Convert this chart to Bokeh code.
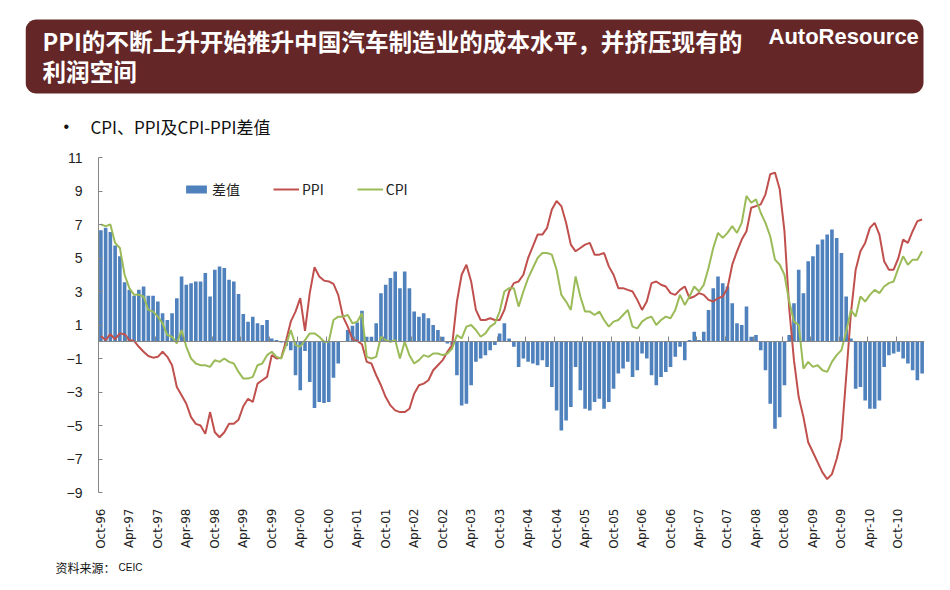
import math
from bokeh.plotting import figure
from bokeh.layouts import column
from bokeh.models import (Range1d, FixedTicker, LinearAxis, Legend, LegendItem,
                          ColumnDataSource)
from bokeh.core.properties import value
from bokeh.embed import file_html
from bokeh.resources import INLINE

# ---------------- data (monthly, Oct-1996 .. Mar-2011) ----------------
cpi = [
    7.0, 6.9, 7.0,
    5.9, 5.6, 4.0, 3.2, 2.8, 2.8, 2.7, 1.9, 1.8, 1.5, 1.1, 0.4,
    0.3, -0.1, 0.7, -0.3, -1.0, -1.3, -1.4, -1.4, -1.5, -1.1, -1.2, -1.0,
    -1.2, -1.3, -1.8, -2.2, -2.2, -2.1, -1.4, -1.3, -0.8, -0.6, -0.9, -1.0,
    -0.2, 0.7, -0.2, -0.3, 0.1, 0.5, 0.5, 0.3, 0.0, 0.0, 1.3, 1.5,
    1.5, 1.6, 1.1, 1.2, 1.7, -0.9, -1.0, -0.9, 0.3, 0.1, 0.0, 0.1,
    -1.0, 0.0, -0.8, -1.3, -1.1, -0.8, -0.9, -0.7, -0.7, -0.8, -0.7, -0.4,
    0.4, 0.2, 0.9, 1.0, 0.7, 0.3, 0.5, 0.9, 1.1, 1.8, 3.0, 3.2,
    3.2, 2.1, 3.0, 3.8, 4.4, 5.0, 5.3, 5.3, 5.2, 4.3, 2.8, 2.4,
    1.9, 3.9, 2.7, 1.8, 1.8, 1.6, 1.8, 1.3, 0.9, 1.2, 1.3, 1.6,
    1.9, 0.9, 0.8, 1.2, 1.4, 1.5, 1.0, 1.3, 1.5, 1.4, 1.9, 2.8,
    2.2, 2.7, 3.3, 3.0, 3.4, 4.4, 5.6, 6.5, 6.2, 6.5, 6.9, 6.5,
    7.1, 8.7, 8.3, 8.5, 7.7, 7.1, 6.3, 4.9, 4.6, 4.0, 2.4, 1.2,
    1.0, -1.6, -1.2, -1.5, -1.4, -1.7, -1.8, -1.2, -0.8, -0.5, 0.6, 1.9,
    1.5, 2.7, 2.4, 2.8, 3.1, 2.9, 3.3, 3.5, 3.6, 4.4, 5.1, 4.6,
    4.9, 4.9, 5.4,
]

ppi = [
    0.35, 0.1, 0.45,
    0.15, 0.5, 0.45, 0.1, 0.05, -0.3, -0.6, -0.85, -0.95, -0.9, -0.6, -0.9,
    -1.4, -2.7, -3.2, -3.7, -4.5, -4.9, -5.0, -5.5, -4.2, -5.4, -5.7, -5.4,
    -4.9, -4.9, -4.65, -3.85, -3.4, -3.6, -2.5, -2.3, -2.1, -0.8, -1.0, -0.95,
    0.05, 1.2, 1.8, 2.6, 0.65, 2.9, 4.45, 3.9, 3.65, 3.6, 3.45, 2.8,
    1.5, 0.9, 0.15, 0.05, -0.15, -1.2, -1.3, -2.0, -2.6, -3.3, -3.8, -4.1,
    -4.2, -4.2, -4.0, -3.1, -2.6, -2.5, -2.3, -1.7, -1.4, -1.1, -0.6, -0.2,
    2.4, 4.0, 4.6, 3.6, 1.9, 1.3, 1.3, 1.4, 1.3, 1.3, 1.9, 3.0,
    3.5, 3.6, 4.0, 5.0, 5.7, 6.4, 6.4, 6.8, 7.9, 8.4, 8.1, 7.1,
    5.8, 5.4, 5.6, 5.8, 5.9, 5.2, 5.2, 5.3, 4.5, 4.0, 3.2, 3.2,
    3.1, 3.0, 2.5, 1.9, 2.4, 3.5, 3.6, 3.4, 3.3, 2.9, 2.8, 3.1,
    3.3, 2.6, 2.7, 2.9, 2.8, 2.5, 2.4, 2.6, 2.7, 3.2, 4.6, 5.4,
    6.1, 6.6, 8.0, 8.1, 8.2, 8.8, 10.0, 10.1, 9.1, 6.6, 2.0, -1.1,
    -3.3, -4.5, -6.0, -6.6, -7.2, -7.8, -8.2, -7.9, -7.0, -5.8, -2.1, 1.7,
    4.3, 5.4, 5.9, 6.8, 7.1, 6.4, 4.8, 4.3, 4.3, 5.0, 6.1, 5.9,
    6.6, 7.2, 7.3,
]

diff = [
    6.65, 6.8, 6.55,
    5.75, 5.1, 3.55, 3.1, 2.75, 3.1, 3.3, 2.75, 2.75, 2.4, 1.7, 1.3,
    1.7, 2.6, 3.9, 3.4, 3.5, 3.6, 3.6, 4.1, 2.7, 4.3, 4.5, 4.4,
    3.7, 3.6, 2.85, 1.65, 1.2, 1.5, 1.1, 1.0, 1.3, 0.2, 0.1, -0.05,
    -0.25, -0.5, -2.0, -2.9, -0.55, -2.4, -3.95, -3.6, -3.65, -3.6, -2.15, -1.3,
    0.05, 0.7, 0.95, 1.15, 1.85, 0.3, 0.3, 1.1, 2.9, 3.4, 3.8, 4.2,
    3.2, 4.2, 3.2, 1.8, 1.5, 1.7, 1.4, 1.0, 0.7, 0.3, -0.1, -0.2,
    -2.0, -3.8, -3.7, -2.6, -1.2, -1.0, -0.8, -0.5, -0.2, 0.5, 1.1, 0.2,
    -0.3, -1.5, -1.0, -1.2, -1.3, -1.4, -1.1, -1.5, -2.7, -4.1, -5.3, -4.7,
    -3.9, -1.5, -2.9, -4.0, -4.1, -3.6, -3.4, -4.0, -3.6, -2.8, -1.9, -1.6,
    -1.2, -2.1, -1.7, -0.7, -1.0, -2.0, -2.6, -2.1, -1.8, -1.5, -0.9, -0.3,
    -1.1, 0.1, 0.6, 0.1, 0.6, 1.9, 3.2, 3.9, 3.5, 3.3, 2.3, 1.1,
    1.0, 2.1, 0.3, 0.4, -0.5, -1.7, -3.7, -5.2, -4.5, -2.6, 0.4, 2.3,
    4.3, 2.9, 4.8, 5.1, 5.8, 6.1, 6.4, 6.7, 6.2, 5.3, 2.7, 0.2,
    -2.8, -2.7, -3.5, -4.0, -4.0, -3.5, -1.5, -0.8, -0.7, -0.6, -1.0, -1.3,
    -1.7, -2.3, -1.9,
]

tick_labels = ["Oct-96", "Apr-97", "Oct-97", "Apr-98", "Oct-98", "Apr-99", "Oct-99",
               "Apr-00", "Oct-00", "Apr-01", "Oct-01", "Apr-02", "Oct-02", "Apr-03",
               "Oct-03", "Apr-04", "Oct-04", "Apr-05", "Oct-05", "Apr-06", "Oct-06",
               "Apr-07", "Oct-07", "Apr-08", "Oct-08", "Apr-09", "Oct-09", "Apr-10",
               "Oct-10"]
y_ticks = [-9, -7, -5, -3, -1, 1, 3, 5, 7, 9, 11]
y_min, y_max = -9, 11

series_names = ["差值", "PPI", "CPI"]
title_line1 = "PPI的不断上升开始推升中国汽车制造业的成本水平，并挤压现有的"
title_line2 = "利润空间"
brand = "AutoResource"
subtitle = "CPI、PPI及CPI-PPI差值"
source_label = "资料来源："
source_name = "CEIC"

n = len(cpi)
assert len(ppi) == n and len(diff) == n
xs = list(range(n))
src = ColumnDataSource(dict(x=xs, cpi=cpi, ppi=ppi, diff=diff))

# ---------------- geometry ----------------
W = 944
HEAD_H, MAIN_H, FOOT_H = 145, 410, 29
BL, BR = 25, 924          # shared frame left/right edge for all three figures
AX = 98                   # pixel position of the value axis
AXIS_H = 335              # pixel height of the value axis (-9 .. 11)
PAD = 10                  # extra frame room above/below the value axis
FT = 157 - PAD - HEAD_H   # main frame top inside the main figure
FH = AXIS_H + 2 * PAD
ppu = (BR - AX) / n                  # pixels per month
upp = (y_max - y_min) / AXIS_H       # value units per pixel
x_start = -0.5 - (AX - BL) / ppu


def blank_fig(h):
    f = figure(width=W, height=h, output_backend="svg", toolbar_location=None,
               x_range=Range1d(BL, BR), y_range=Range1d(h, 0),
               x_axis_type=None, y_axis_type=None,
               min_border_left=BL, min_border_right=W - BR,
               min_border_top=0, min_border_bottom=0)
    f.outline_line_color = None
    f.xgrid.visible = False
    f.ygrid.visible = False
    f.background_fill_color = "white"
    f.border_fill_color = "white"
    return f


def txt(f, x, y, t, size, font="Noto Sans CJK SC", color="white", style="normal"):
    f.text(x=[x], y=[y], text=[t], text_font=value(font), text_font_size=value(size),
           text_color=color, text_font_style=style, text_align="left",
           text_baseline="middle")


def rounded_rect(x0, y0, x1, y1, r, steps=8):
    bx, by = [], []
    corners = [(x1 - r, y0 + r, -90, 0), (x1 - r, y1 - r, 0, 90),
               (x0 + r, y1 - r, 90, 180), (x0 + r, y0 + r, 180, 270)]
    for cx, cy, a0, a1 in corners:
        for s in range(steps + 1):
            a = math.radians(a0 + (a1 - a0) * s / steps)
            bx.append(cx + r * math.cos(a))
            by.append(cy + r * math.sin(a))
    return bx, by


# ---------------- header (banner, title, subtitle) ----------------
head = blank_fig(HEAD_H)
bx, by = rounded_rect(25, 19, 923, 93, 11)
head.patch(bx, by, fill_color="#642626", line_color=None)
txt(head, 42, 40, title_line1, "23.6px", style="bold")
txt(head, 42, 70, title_line2, "23.6px", style="bold")
txt(head, 768, 36, brand, "22px", font="Liberation Sans", style="bold")
txt(head, 63, 126, "•", "16px", font="Liberation Sans", color="#111111")
txt(head, 90, 126, subtitle, "17px", color="#111111")

# ---------------- main chart ----------------
p = figure(width=W, height=MAIN_H, output_backend="svg", toolbar_location=None,
           x_range=Range1d(x_start, n - 0.5),
           y_range=Range1d(y_min - PAD * upp, y_max + PAD * upp),
           y_axis_type=None,
           min_border_left=BL, min_border_right=W - BR,
           min_border_top=FT, min_border_bottom=MAIN_H - FT - FH)
p.outline_line_color = None
p.xgrid.visible = False
p.ygrid.visible = False
p.background_fill_color = "white"
p.border_fill_color = "white"

bars = p.vbar(x="x", top="diff", bottom=0, width=0.76, source=src,
              fill_color="#4F81BD", line_color=None)
lp = p.line("x", "ppi", source=src, line_color="#C0504D", line_width=2)
lc = p.line("x", "cpi", source=src, line_color="#9BBB59", line_width=2)

ya = LinearAxis(fixed_location=-0.5, ticker=FixedTicker(ticks=y_ticks),
                bounds=(y_min, y_max),
                axis_line_color="#868686", major_tick_line_color="#868686",
                major_tick_in=4, major_tick_out=0, minor_tick_line_color=None,
                major_label_standoff=16, major_label_text_font="Liberation Sans",
                major_label_text_font_size="14px", major_label_text_color="#222222")
p.add_layout(ya, "left")

label_pos = [6 * k for k in range(len(tick_labels))]
xa = p.xaxis[0]
xa.ticker = FixedTicker(ticks=label_pos)
xa.major_label_overrides = {pos: lab for pos, lab in zip(label_pos, tick_labels)}
xa.major_label_orientation = math.pi / 2
xa.axis_line_color = None
xa.major_tick_line_color = None
xa.minor_tick_line_color = None
xa.major_tick_in = 0
xa.major_tick_out = 0
xa.major_label_standoff = 16 - PAD
xa.major_label_text_font = "DejaVu Sans"
xa.major_label_text_font_size = "12px"
xa.major_label_text_color = "#222222"

boundary_ticks = [6 * k - 0.5 for k in range(len(tick_labels))]
za = LinearAxis(fixed_location=0, ticker=FixedTicker(ticks=boundary_ticks),
                bounds=(-0.5, n - 0.5),
                axis_line_color="#868686", major_tick_line_color="#868686",
                major_tick_in=5, major_tick_out=0, minor_tick_line_color=None,
                major_label_text_color=None, major_label_text_font_size="1px")
p.add_layout(za, "below")

legend = Legend(items=[LegendItem(label=series_names[0], renderers=[bars]),
                       LegendItem(label=series_names[1], renderers=[lp]),
                       LegendItem(label=series_names[2], renderers=[lc])],
                orientation="horizontal", location=(183 - BL, 293 + PAD),
                padding=0, margin=0, spacing=33, glyph_width=26, glyph_height=10,
                label_standoff=3, label_height=16,
                label_text_font="Noto Sans CJK SC", label_text_font_size="14px",
                label_text_color="#222222",
                background_fill_alpha=0, border_line_color=None)
p.add_layout(legend)

# ---------------- footer (source) ----------------
foot = blank_fig(FOOT_H)
txt(foot, 55, 12, source_label, "12px", color="#111111")
txt(foot, 118, 12, source_name, "10px", font="Liberation Sans", color="#111111")

layout = column(head, p, foot, spacing=0)
open("out.html", "w").write(file_html(layout, INLINE))
